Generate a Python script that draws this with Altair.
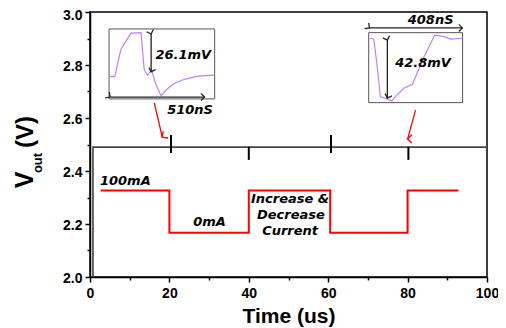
import altair as alt
import pandas as pd

# ---------------- data ----------------
# red load-step trace (time us, V)
step_t = [2.7, 20.0, 20.0, 40.0, 40.0, 60.5, 60.5, 80.0, 80.0, 92.8]
step_v = [2.326, 2.326, 2.167, 2.167, 2.326, 2.326, 2.167, 2.167, 2.326, 2.326]

# output-voltage baseline (scope trace) and its glitches
base_t = [0.75, 0.75, 100.0]
base_v = [2.0, 2.49, 2.49]
glitch_t = [20.4, 40.0, 60.7, 80.2]
glitch_top = [2.536, 2.491, 2.536, 2.491]
glitch_bot = [2.468, 2.442, 2.468, 2.442]

# left inset (zoom of transient at 20 us)
inL_t = [5.06, 6.25, 7.77, 10.30, 12.84, 13.67, 14.51, 15.52, 16.63, 17.90, 19.16, 21.27, 23.80, 27.16, 31.39]
inL_v = [2.756, 2.756, 2.859, 2.920, 2.922, 2.781, 2.762, 2.781, 2.725, 2.684, 2.706, 2.731, 2.746, 2.758, 2.762]
boxL = [4.8, 31.4, 2.672, 2.936]

# right inset (zoom of transient at 80 us)
inR_t = [70.46, 71.47, 72.15, 73.16, 74.43, 75.95, 77.39, 79.06, 81.19, 82.03, 84.13, 86.84, 89.19, 90.89, 93.85]
inR_v = [2.901, 2.898, 2.819, 2.680, 2.674, 2.664, 2.687, 2.712, 2.727, 2.756, 2.831, 2.913, 2.907, 2.898, 2.901]
boxR = [70.2, 93.85, 2.658, 2.922]

# dimension arrows inside insets: (t1, t2, v1, v2)
dim_t1 = [15.4, 5.06, 70.4, 74.9]
dim_t2 = [15.4, 28.86, 93.8, 74.9]
dim_v1 = [2.917, 2.679, 2.940, 2.894]
dim_v2 = [2.774, 2.679, 2.940, 2.675]
head_t = [15.4, 15.4, 5.06, 28.86, 70.4, 93.8, 74.9, 74.9]
head_v = [2.917, 2.774, 2.679, 2.679, 2.940, 2.940, 2.894, 2.675]
head_dir = ["up", "down", "left", "right", "left", "right", "up", "down"]

# red pointer arrows
red_t1 = [16.2, 82.0]
red_t2 = [18.2, 80.0]
red_v1 = [2.657, 2.630]
red_v2 = [2.528, 2.521]
red_dir = ["redL", "redR"]

# annotations
lab_text = ["26.1mV", "510nS", "408nS", "42.8mV", "100mA", "0mA", "Increase &", "Decrease", "Current"]
lab_t = [23.5, 25.2, 85.8, 83.9, 8.9, 30.1, 50.4, 50.6, 50.4]
lab_v = [2.838, 2.630, 2.970, 2.809, 2.363, 2.209, 2.294, 2.234, 2.175]

x_ticks = [0, 10, 20, 30, 40, 50, 60, 70, 80, 90, 100]
y_ticks = [2.0, 2.1, 2.2, 2.3, 2.4, 2.5, 2.6, 2.7, 2.8, 2.9, 3.0]

# ---------------- tables ----------------
step_df = pd.DataFrame({"t": step_t, "v": step_v, "i": range(len(step_t))})
base_df = pd.DataFrame({"t": base_t, "v": base_v, "i": range(len(base_t))})
glitch_df = pd.DataFrame({"t": glitch_t, "v": glitch_top, "v2": glitch_bot})
inL_df = pd.DataFrame({"t": inL_t, "v": inL_v, "i": range(len(inL_t))})
inR_df = pd.DataFrame({"t": inR_t, "v": inR_v, "i": range(len(inR_t))})
box_df = pd.DataFrame({"t": [boxL[0], boxR[0]], "t2": [boxL[1], boxR[1]],
                       "v": [boxL[2], boxR[2]], "v2": [boxL[3], boxR[3]]})
dim_df = pd.DataFrame({"t": dim_t1, "t2": dim_t2, "v": dim_v1, "v2": dim_v2})
head_df = pd.DataFrame({"t": head_t, "v": head_v, "d": head_dir})
red_df = pd.DataFrame({"t": red_t1, "t2": red_t2, "v": red_v1, "v2": red_v2})
redhead_df = pd.DataFrame({"t": red_t2, "v": red_v2, "d": red_dir})
lab_df = pd.DataFrame({"t": lab_t, "v": lab_v, "text": lab_text})

FONT = "Liberation Sans"
x_scale = alt.Scale(domain=[0, 100], nice=False, zero=False)
y_scale = alt.Scale(domain=[2.0, 3.0], nice=False, zero=False)

x_axis = alt.Axis(
    values=x_ticks,
    labelExpr="datum.value % 20 === 0 ? datum.label : ''",
    tickSize={"condition": {"test": "datum.value % 20 === 0", "value": 5}, "value": 3},
    grid=False, domainColor="black", domainWidth=1.5, tickColor="black", tickWidth=1.5,
    labelFont=FONT, labelFontWeight="bold", labelFontSize=14, labelColor="black",
    labelPadding=4, labelFlush=False,
    title="Time (us)", titleFont=FONT, titleFontWeight="bold", titleFontSize=21,
    titleColor="black", titlePadding=5,
)
y_axis = alt.Axis(
    values=y_ticks,
    labelExpr="round(datum.value*10) % 2 === 0 ? format(datum.value, '.1f') : ''",
    tickSize={"condition": {"test": "round(datum.value*10) % 2 === 0", "value": 5}, "value": 3},
    grid=False, domainColor="black", domainWidth=1.5, tickColor="black", tickWidth=1.5,
    labelFont=FONT, labelFontWeight="bold", labelFontSize=14, labelColor="black",
    labelPadding=3, labelFlush=False,
    labelOffset={"condition": {"test": "datum.value > 2.95", "value": 3}, "value": 1.5},
    title=None,
)


def X(f="t"):
    return alt.X(f"{f}:Q", scale=x_scale, axis=x_axis)


def Y(f="v"):
    return alt.Y(f"{f}:Q", scale=y_scale, axis=y_axis)


step = alt.Chart(step_df).mark_line(color="#FF0000", strokeWidth=2).encode(
    x=X(), y=Y(), order="i:Q")

base = alt.Chart(base_df).mark_line(color="#444444", strokeWidth=1.6).encode(
    x=X(), y=Y(), order="i:Q")

glitch = alt.Chart(glitch_df).mark_rule(color="black", strokeWidth=2).encode(
    x=X(), y=Y(), y2="v2:Q")

boxes = alt.Chart(box_df).mark_rect(fill="white", stroke="#555555", strokeWidth=1).encode(
    x=X(), x2="t2:Q", y=Y(), y2="v2:Q")

curveL = alt.Chart(inL_df).mark_line(color="#C080F8", strokeWidth=1.2).encode(
    x=X(), y=Y(), order="i:Q")
curveR = alt.Chart(inR_df).mark_line(color="#C080F8", strokeWidth=1.2).encode(
    x=X(), y=Y(), order="i:Q")

dims = alt.Chart(dim_df).mark_rule(color="#222222", strokeWidth=1.3).encode(
    x=X(), x2="t2:Q", y=Y(), y2="v2:Q")

chevron = "M-1,-1L0,0L-1,1"
heads = alt.Chart(head_df).mark_point(shape=chevron, filled=False, color="#222222",
                                      strokeWidth=1.3, size=50, opacity=1).encode(
    x=X(), y=Y(),
    angle=alt.Angle("d:N", scale=alt.Scale(domain=["right", "left", "up", "down"],
                                           range=[0, 180, 270, 90]), legend=None))

reds = alt.Chart(red_df).mark_rule(color="#FF0000", strokeWidth=1.3).encode(
    x=X(), x2="t2:Q", y=Y(), y2="v2:Q")
redheads = alt.Chart(redhead_df).mark_point(shape=chevron, filled=False, color="#FF0000",
                                            strokeWidth=1.4, size=70, opacity=1).encode(
    x=X(), y=Y(),
    angle=alt.Angle("d:N", scale=alt.Scale(domain=["redL", "redR"], range=[77, 105]),
                    legend=None))

labels = alt.Chart(lab_df).mark_text(font="DejaVu Sans", fontWeight="bold", fontStyle="italic",
                                     fontSize=13, color="black", align="center",
                                     baseline="middle").encode(
    x=X(), y=Y(), text="text:N")

yt_V = alt.Chart(pd.DataFrame({"text": ["V"]})).mark_text(
    font=FONT, fontWeight="bold", fontSize=25, angle=270,
    align="center", baseline="middle", color="black").encode(
    x=alt.value(-65), y=alt.value(168), text="text:N")
yt_out = alt.Chart(pd.DataFrame({"text": ["out"]})).mark_text(
    font=FONT, fontWeight="bold", fontSize=13, angle=270, align="center",
    baseline="middle", color="black").encode(
    x=alt.value(-52), y=alt.value(151), text="text:N")
yt_unit = alt.Chart(pd.DataFrame({"text": ["(V)"]})).mark_text(
    font=FONT, fontWeight="bold", fontSize=24, angle=270, align="center",
    baseline="middle", color="black").encode(
    x=alt.value(-64), y=alt.value(120), text="text:N")

chart = alt.layer(
    step, base, glitch, boxes, curveL, curveR, dims, heads, reds, redheads, labels,
    yt_V, yt_out, yt_unit
).properties(
    width=397, height=265,
    padding={"left": 82, "top": 4, "right": 11, "bottom": 51},
    autosize=alt.AutoSizeParams(type="none"),
    background="white",
).configure_view(stroke="black", strokeWidth=1.5)

chart.save("out.html", embed_options={"renderer": "svg", "actions": False})
